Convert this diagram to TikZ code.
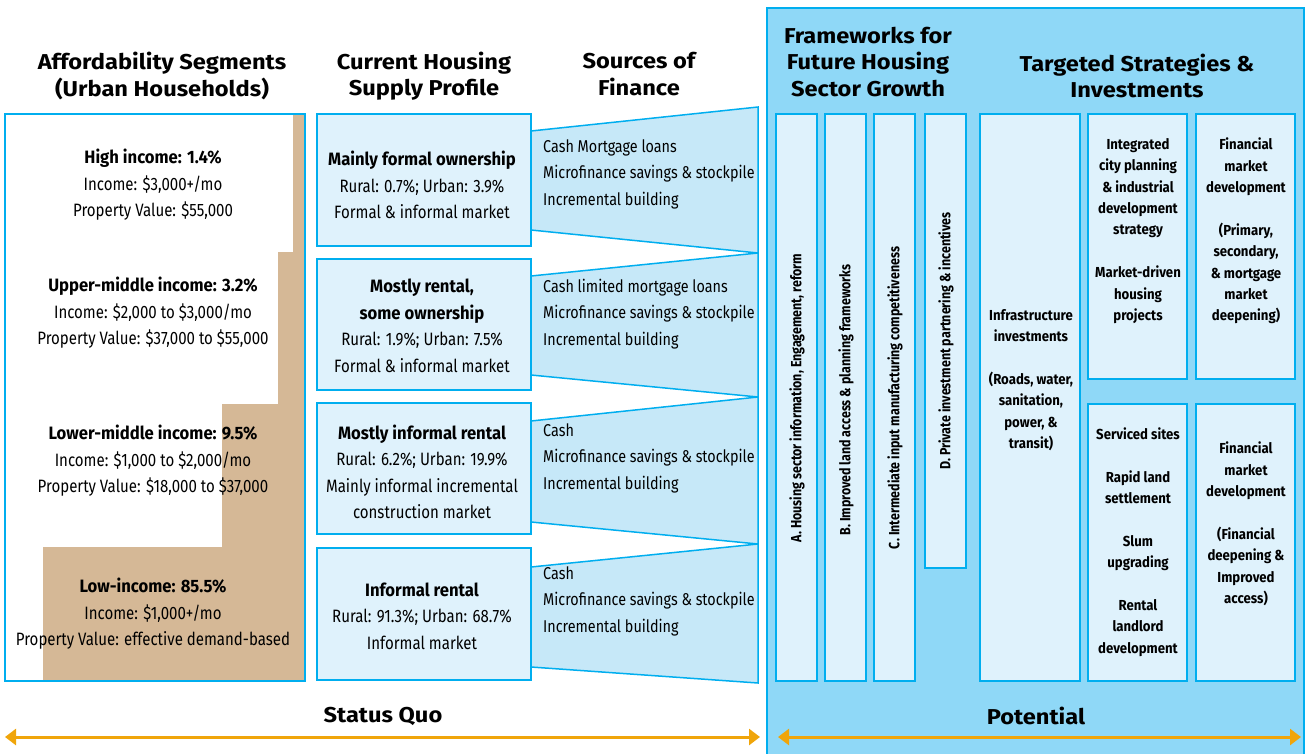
\documentclass[tikz,border=0pt]{standalone}
\usepackage{fontspec}
\setmainfont{Fira Sans}[FakeStretch=0.84]
\newfontfamily\headfont{Fira Sans}[FakeStretch=1.1]
\newfontfamily\boldcond{Fira Sans}[FakeStretch=0.93]
\newfontfamily\stratfont{Fira Sans}[FakeStretch=0.91]
\newcommand{\segbf}[1]{{\boldcond\bfseries #1}}
\usetikzlibrary{arrows.meta}

\definecolor{cyanline}{RGB}{0,174,239}
\definecolor{panelfill}{RGB}{143,216,247}
\definecolor{boxfill}{RGB}{223,242,252}
\definecolor{funnelfill}{RGB}{198,232,248}
\definecolor{tan}{RGB}{213,184,150}
\definecolor{arroworange}{RGB}{240,165,10}

\begin{document}
\begin{tikzpicture}[x=1pt,y=-1pt,
  frame/.style={draw=cyanline, line width=1.8pt},
  lightbox/.style={frame, fill=boxfill},
  funnel/.style={draw=cyanline, line width=1.5pt, fill=funnelfill, line join=miter},
  head/.style={font=\headfont\bfseries\fontsize{21.5}{26.5}\selectfont, align=center, inner sep=0pt},
  body/.style={font=\fontsize{17.9}{26.5}\selectfont, align=center, inner sep=0pt},
  bodyl/.style={font=\fontsize{17.1}{26.5}\selectfont, align=left, anchor=west, inner sep=0pt},
  strat/.style={font=\stratfont\bfseries\fontsize{14.5}{21.4}\selectfont, align=center, inner sep=0pt},
  vstrat/.style={font=\bfseries\fontsize{14.8}{18}\selectfont, inner sep=0pt, rotate=90},
  span/.style={draw=arroworange, line width=3pt, {Triangle[length=11pt,width=16pt]}-{Triangle[length=11pt,width=16pt]}}
]
\useasboundingbox (0,0) rectangle (1306,753);

% ---------- potential panel ----------
\path[frame, fill=panelfill] (767,8) rectangle (1304,760);

% ---------- affordability segments ----------
\fill[white] (5,114) rectangle (305,681);
\fill[tan] (43,681) -- (43,547) -- (222,547) -- (222,404) -- (278,404) -- (278,252)
  -- (293,252) -- (293,114) -- (305,114) -- (305,681) -- cycle;
\draw[frame] (5,114) rectangle (305,681);

\node[head] (hSeg) at (162,76) {Affordability Segments\\(Urban Households)};
\node[body] (seg1) at (153,185) {\segbf{High income: 1.4\%}\\Income: \$3,000+/mo\\Property Value: \$55,000};
\node[body] (seg2) at (153,313) {\segbf{Upper-middle income: 3.2\%}\\Income: \$2,000 to \$3,000/mo\\Property Value: \$37,000 to \$55,000};
\node[body] (seg3) at (153,461) {\segbf{Lower-middle income: 9.5\%}\\Income: \$1,000 to \$2,000/mo\\Property Value: \$18,000 to \$37,000};
\node[body] (seg4) at (153,614) {\segbf{Low-income: 85.5\%}\\Income: \$1,000+/mo\\Property Value: effective demand-based};

% ---------- current housing supply ----------
\node[head] (hSup) at (424,76) {Current Housing\\Supply Profile};
\path[lightbox] (317,114) rectangle (531,246);
\path[lightbox] (317,259) rectangle (531,390);
\path[lightbox] (317,403) rectangle (531,534);
\path[lightbox] (317,548) rectangle (531,680);
\node[body] (sup1) at (422,185) {\segbf{Mainly formal ownership}\\Rural: 0.7\%; Urban: 3.9\%\\Formal \& informal market};
\node[body] (sup2) at (422,326) {\segbf{Mostly rental,}\\\segbf{some ownership}\\Rural: 1.9\%; Urban: 7.5\%\\Formal \& informal market};
\node[body] (sup3) at (422,472) {\segbf{Mostly informal rental}\\Rural: 6.2\%; Urban: 19.9\%\\Mainly informal incremental\\construction market};
\node[body] (sup4) at (422,616) {\segbf{Informal rental}\\Rural: 91.3\%; Urban: 68.7\%\\Informal market};

% ---------- sources of finance ----------
\node[head] (hFin) at (639,74) {Sources of\\Finance};
\path[funnel] (531,131) -- (758,107) -- (758,253) -- (531,230) -- cycle;
\path[funnel] (531,276) -- (758,253) -- (758,397) -- (531,375) -- cycle;
\path[funnel] (531,421) -- (758,397) -- (758,544) -- (531,522) -- cycle;
\path[funnel] (531,567) -- (758,544) -- (758,683) -- (531,667) -- cycle;
\node[bodyl] (fin1) at (543,174) {Cash Mortgage loans\\Microfinance savings \& stockpile\\Incremental building};
\node[bodyl] (fin2) at (543,314) {Cash limited mortgage loans\\Microfinance savings \& stockpile\\Incremental building};
\node[bodyl] (fin3) at (543,458) {Cash\\Microfinance savings \& stockpile\\Incremental building};
\node[bodyl] (fin4) at (543,601) {Cash\\Microfinance savings \& stockpile\\Incremental building};

% ---------- frameworks ----------
\node[head] (hFrm) at (868,62) {Frameworks for\\Future Housing\\Sector Growth};
\path[lightbox] (776,114) rectangle (817,681);
\path[lightbox] (825,114) rectangle (866,681);
\path[lightbox] (874,114) rectangle (915,681);
\path[lightbox] (925,114) rectangle (966,568);
\node[vstrat] (frmA) at (797,398) {A. Housing sector information, Engagement, reform};
\node[vstrat] (frmB) at (846,400) {B. Improved land access \& planning frameworks};
\node[vstrat] (frmC) at (895,398) {C. Intermediate input manufacturing competitiveness};
\node[vstrat] (frmD) at (946,341) {D. Private investment partnering \& incentives};

% ---------- targeted strategies ----------
\node[head] (hStr) at (1137,76) {Targeted Strategies \&\\Investments};
\path[lightbox] (980,114) rectangle (1080,681);
\path[lightbox] (1088,114) rectangle (1187,379);
\path[lightbox] (1196,114) rectangle (1295,379);
\path[lightbox] (1088,404) rectangle (1187,681);
\path[lightbox] (1196,404) rectangle (1295,681);
\node[strat] (strE) at (1031,380) {Infrastructure\\investments\\[21.4pt](Roads, water,\\sanitation,\\power, \&\\transit)};
\node[strat] (strF) at (1138,231) {Integrated\\city planning\\\& industrial\\development\\strategy\\[21.4pt]Market-driven\\housing\\projects};
\node[strat] (strG) at (1246,231) {Financial\\market\\development\\[21.4pt](Primary,\\secondary,\\\& mortgage\\market\\deepening)};
\node[strat] (strH) at (1138,542) {Serviced sites\\[21.4pt]Rapid land\\settlement\\[21.4pt]Slum\\upgrading\\[21.4pt]Rental\\landlord\\development};
\node[strat] (strI) at (1246,524) {Financial\\market\\development\\[21.4pt](Financial\\deepening \&\\Improved\\access)};

% ---------- timeline ----------
\node[head] (lblSQ) at (383,716) {Status Quo};
\node[head] (lblPot) at (1036,716) {Potential};
\coordinate (sqL) at (5,737);
\coordinate (sqR) at (760,737);
\coordinate (potL) at (778,737);
\coordinate (potR) at (1301,737);
\draw[span] (sqL) -- (sqR);
\draw[span] (potL) -- (potR);
\end{tikzpicture}
\end{document}
